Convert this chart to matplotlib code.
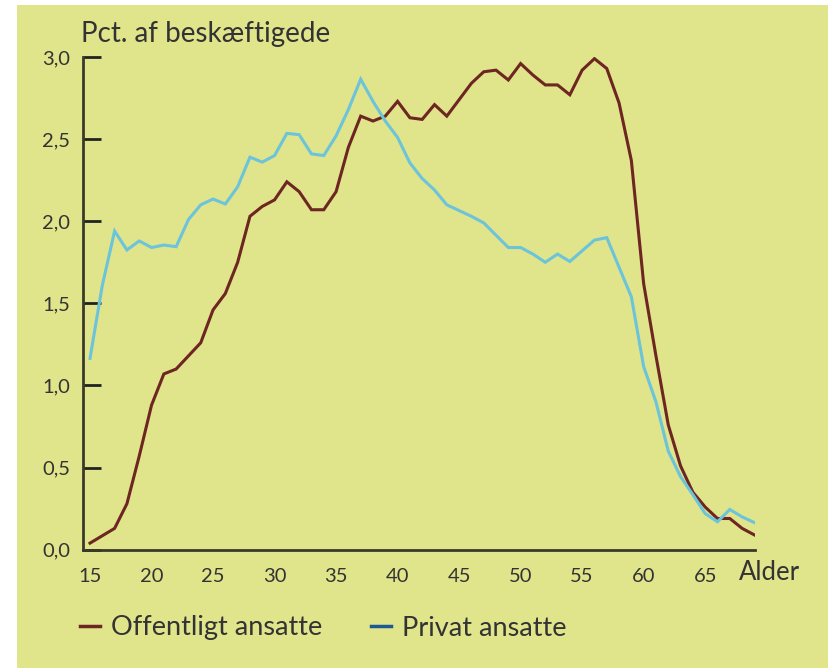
import numpy as np
import matplotlib
matplotlib.use("Agg")
import matplotlib.pyplot as plt
from matplotlib.lines import Line2D

plt.rcParams['font.family'] = ['Lato', 'DejaVu Sans']

# alder 15..69
alder = list(range(15, 70))

offentlig = [0.04, 0.085, 0.13, 0.28, 0.57, 0.88, 1.07, 1.10, 1.18, 1.26, 1.46, 1.56, 1.75, 2.03, 2.09,
             2.13, 2.24, 2.18, 2.07, 2.07, 2.18, 2.45, 2.64, 2.61, 2.64, 2.73, 2.63, 2.62, 2.71, 2.64,
             2.74, 2.84, 2.91, 2.92, 2.86, 2.96, 2.89, 2.83, 2.83, 2.77, 2.92, 2.99, 2.93, 2.72, 2.37,
             1.62, 1.18, 0.76, 0.51, 0.35, 0.26, 0.19, 0.19, 0.13, 0.09]

privat = [1.165, 1.61, 1.94, 1.825, 1.88, 1.84, 1.855, 1.845, 2.01, 2.10, 2.135, 2.105, 2.21, 2.39, 2.36,
          2.40, 2.535, 2.527, 2.41, 2.40, 2.52, 2.68, 2.865, 2.73, 2.61, 2.51, 2.355, 2.26, 2.19, 2.10,
          2.065, 2.03, 1.99, 1.915, 1.84, 1.84, 1.80, 1.75, 1.80, 1.755, 1.82, 1.885, 1.90, 1.72, 1.54,
          1.115, 0.90, 0.60, 0.445, 0.335, 0.22, 0.17, 0.245, 0.20, 0.165]

yticks = [0.0, 0.5, 1.0, 1.5, 2.0, 2.5, 3.0]
ytick_labels = ['0,0', '0,5', '1,0', '1,5', '2,0', '2,5', '3,0']
xticks = [15, 20, 25, 30, 35, 40, 45, 50, 55, 60, 65]

bg = '#e0e48b'
rod = '#6e2622'
blaa = '#6cc4da'
blaa_legend = '#1d5a94'
tekst = '#333333'

fig = plt.figure(figsize=(8.29, 6.68), dpi=100)
fig.patch.set_facecolor('white')
# farvet baggrund (hvid kant foroven og til venstre)
fig.patches.append(plt.Rectangle((17/829, 0), 1, 663/668, transform=fig.transFigure,
                                 facecolor=bg, edgecolor='none', zorder=-10))

ax = fig.add_axes([83/829, 118.3/668, 672/829, 492.7/668])
ax.set_facecolor(bg)
ax.patch.set_alpha(0)

ax.plot(alder, offentlig, color=rod, lw=2.2, solid_joinstyle='miter')
ax.plot(alder, privat, color=blaa, lw=2.2, solid_joinstyle='miter')

ax.set_xlim(14.43, 69.05)
ax.set_ylim(0, 3.0)

for s in ['top', 'right']:
    ax.spines[s].set_visible(False)
for s in ['left', 'bottom']:
    ax.spines[s].set_color('#3a3a2a')
    ax.spines[s].set_linewidth(2)

ax.set_yticks(yticks)
ax.set_yticklabels(ytick_labels)
ax.set_xticks(xticks)
ax.set_xticklabels([str(x) for x in xticks])
ax.tick_params(axis='y', direction='in', length=13, width=2, color='#222222',
               labelsize=14.5, labelcolor=tekst, pad=9)
ax.tick_params(axis='x', length=0, labelsize=14.5, labelcolor=tekst, pad=13)

fig.text(81/829, 1 - 42/668, 'Pct. af beskæftigede', fontsize=20, color=tekst,
         ha='left', va='baseline')
ax.text(70.25, -0.06, 'Alder', fontsize=18.5, color=tekst, ha='center', va='top',
        transform=ax.transData, clip_on=False)

handles = [Line2D([], [], color=rod, lw=2.5), Line2D([], [], color=blaa_legend, lw=2.5)]
fig.legend(handles, ['Offentligt ansatte', 'Privat ansatte'], ncol=2, frameon=False,
           loc='center left', bbox_to_anchor=(80/829, 1 - 628/668), fontsize=19.5,
           borderpad=0, borderaxespad=0,
           handlelength=0.75, handletextpad=0.4, columnspacing=1.8, labelcolor=tekst)

fig.savefig('out.png', dpi=100, facecolor=fig.get_facecolor())
